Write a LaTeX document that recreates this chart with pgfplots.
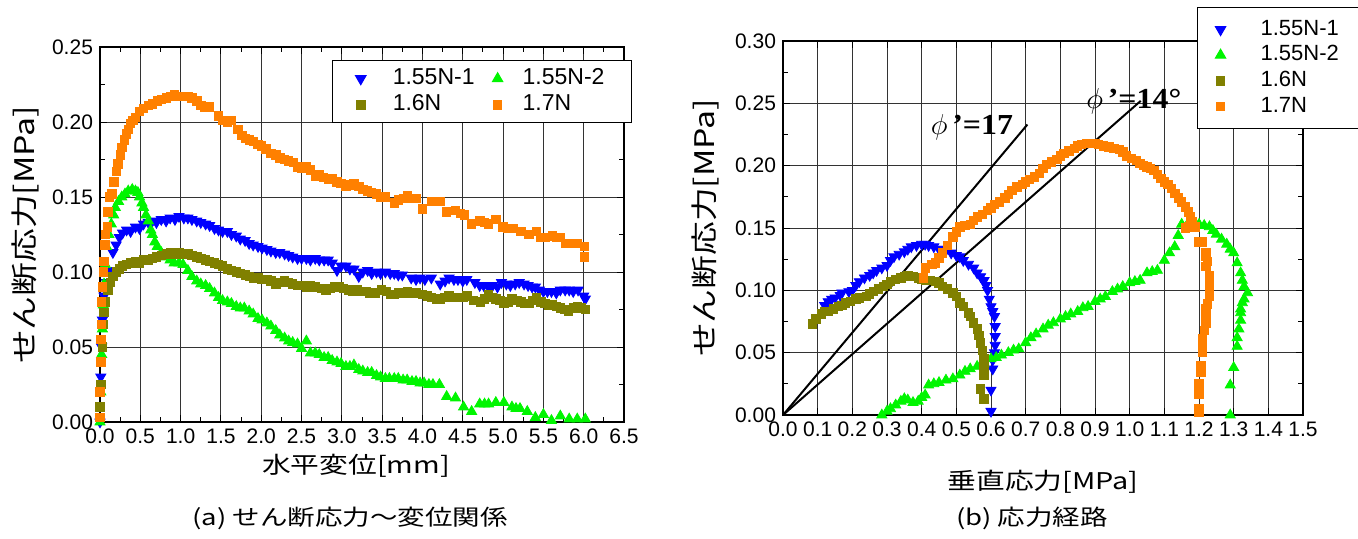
\documentclass[border=0pt]{standalone}
\usepackage{fontspec}
\setmainfont{Liberation Sans}
\newfontfamily\jp{Noto Sans CJK JP}[FakeStretch=1.25]
\newfontfamily\ser{Liberation Serif}[FakeStretch=1.1]
\usepackage{pgfplots}
\pgfplotsset{compat=1.18}
\definecolor{cblue}{RGB}{0,0,255}
\definecolor{cgreen}{RGB}{0,245,0}
\definecolor{colive}{RGB}{128,128,0}
\definecolor{corange}{RGB}{255,128,0}
\pgfplotsset{
  mybase/.style={
    scale only axis, clip=false,
    axis line style={line width=0.7pt},
    grid=major,
    major grid style={black!80, line width=0.45pt},
    tick align=inside,
    every tick/.style={black, line width=0.5pt},
    major tick length=3.5pt, minor tick length=2.5pt,
    scaled ticks=false,
    /pgf/number format/assume math mode=true,
    tick label style={font=\fontsize{10.5}{12}\selectfont},
    xticklabel style={/pgf/number format/.cd, fixed, fixed zerofill, precision=1},
    yticklabel style={/pgf/number format/.cd, fixed, fixed zerofill, precision=2},
    legend cell align=left,
  },
  pB/.style={only marks, mark=triangle*, mark size=2.9pt, color=cblue, mark options={rotate=180, fill=cblue, draw=cblue}},
  pG/.style={only marks, mark=triangle*, mark size=2.9pt, color=cgreen, mark options={fill=cgreen, draw=cgreen}},
  pO/.style={only marks, mark=square*, mark size=2.1pt, color=colive, mark options={fill=colive, draw=colive}},
  pR/.style={only marks, mark=square*, mark size=2.1pt, color=corange, mark options={fill=corange, draw=corange}},
}

\pgfplotstableread{
x y
0 0
0.01 0.03
0.02 0.05
0.03 0.068
0.05 0.084
0.08 0.093
0.11 0.101
0.16 0.113
0.2 0.118
0.24 0.123
0.28 0.126
0.33 0.128
0.38 0.127
0.44 0.130
0.49 0.129
0.54 0.132
0.6 0.133
0.65 0.134
0.7 0.133
0.76 0.135
0.82 0.134
0.87 0.136
0.93 0.135
0.98 0.137
1.04 0.136
1.09 0.136
1.14 0.135
1.2 0.134
1.25 0.133
1.31 0.132
1.36 0.131
1.42 0.129
1.47 0.128
1.52 0.127
1.58 0.127
1.63 0.125
1.69 0.124
1.74 0.122
1.8 0.121
1.85 0.119
1.9 0.118
1.96 0.117
2.01 0.116
2.07 0.115
2.12 0.114
2.18 0.113
2.23 0.113
2.29 0.112
2.34 0.111
2.39 0.110
2.45 0.109
2.5 0.109
2.56 0.109
2.61 0.108
2.67 0.109
2.72 0.108
2.78 0.108
2.83 0.108
2.88 0.106
2.94 0.101
2.99 0.104
3.05 0.104
3.1 0.102
3.15 0.102
3.21 0.097
3.26 0.100
3.32 0.101
3.37 0.099
3.43 0.100
3.48 0.099
3.54 0.100
3.6 0.099
3.65 0.099
3.7 0.098
3.75 0.098
3.86 0.096
3.92 0.095
3.97 0.096
4.03 0.095
4.11 0.096
4.22 0.092
4.28 0.094
4.33 0.096
4.39 0.095
4.44 0.095
4.5 0.094
4.55 0.095
4.65 0.093
4.71 0.091
4.76 0.091
4.82 0.090
4.87 0.091
4.93 0.090
4.98 0.093
5.04 0.092
5.09 0.091
5.15 0.092
5.2 0.093
5.26 0.092
5.31 0.091
5.36 0.090
5.4 0.090
5.45 0.088
5.5 0.087
5.55 0.087
5.6 0.087
5.66 0.086
5.71 0.088
5.77 0.088
5.82 0.088
5.87 0.087
5.93 0.088
6.0 0.084
6.02 0.082
}\LB
\pgfplotstableread{
x y
0 0
0.01 0.02
0.02 0.045
0.03 0.062
0.04 0.078
0.05 0.092
0.065 0.105
0.08 0.117
0.11 0.125
0.14 0.132
0.17 0.138
0.19 0.143
0.23 0.147
0.27 0.150
0.31 0.152
0.35 0.154
0.4 0.155
0.44 0.154
0.47 0.153
0.49 0.150
0.52 0.146
0.54 0.143
0.57 0.138
0.6 0.134
0.63 0.128
0.65 0.125
0.68 0.120
0.71 0.117
0.76 0.113
0.82 0.110
0.87 0.108
0.92 0.106
0.98 0.106
1.03 0.105
1.09 0.101
1.14 0.097
1.2 0.094
1.25 0.092
1.31 0.091
1.36 0.089
1.42 0.086
1.47 0.083
1.52 0.081
1.58 0.080
1.63 0.079
1.69 0.077
1.74 0.076
1.79 0.076
1.85 0.074
1.9 0.072
1.96 0.069
2.01 0.068
2.07 0.066
2.12 0.064
2.18 0.061
2.23 0.058
2.29 0.056
2.34 0.054
2.39 0.053
2.45 0.052
2.5 0.049
2.56 0.054
2.61 0.046
2.67 0.046
2.72 0.045
2.78 0.043
2.83 0.043
2.88 0.041
2.94 0.040
2.99 0.039
3.05 0.037
3.1 0.037
3.15 0.038
3.21 0.035
3.26 0.034
3.32 0.033
3.37 0.033
3.43 0.031
3.48 0.030
3.54 0.029
3.59 0.029
3.65 0.029
3.7 0.029
3.76 0.028
3.81 0.028
3.87 0.027
3.92 0.027
3.97 0.026
4.02 0.026
4.08 0.025
4.13 0.025
4.21 0.025
4.3 0.017
4.41 0.016
4.51 0.010
4.61 0.007
4.71 0.012
4.77 0.012
4.82 0.012
4.91 0.013
5.01 0.013
5.11 0.010
5.16 0.009
5.21 0.009
5.3 0.007
5.4 0.003
5.5 0.005
5.6 0.001
5.71 0.004
5.82 0.002
5.92 0.002
6.02 0.002
}\LG
\pgfplotstableread{
x y
0 0.01
0.01 0.025
0.02 0.04
0.03 0.05
0.04 0.065
0.05 0.073
0.07 0.08
0.1 0.088
0.13 0.093
0.16 0.097
0.2 0.100
0.24 0.102
0.28 0.104
0.33 0.105
0.38 0.106
0.44 0.107
0.49 0.106
0.54 0.108
0.6 0.108
0.65 0.109
0.7 0.110
0.76 0.111
0.82 0.112
0.87 0.113
0.93 0.112
0.98 0.113
1.04 0.112
1.09 0.112
1.14 0.111
1.2 0.110
1.25 0.109
1.31 0.108
1.36 0.107
1.42 0.106
1.47 0.105
1.52 0.104
1.58 0.102
1.63 0.101
1.69 0.100
1.74 0.099
1.8 0.098
1.85 0.097
1.9 0.096
1.96 0.096
2.01 0.095
2.07 0.095
2.12 0.094
2.18 0.092
2.23 0.093
2.29 0.094
2.34 0.093
2.39 0.092
2.45 0.091
2.5 0.091
2.56 0.090
2.61 0.091
2.67 0.090
2.75 0.089
2.8 0.088
2.86 0.089
2.91 0.090
2.97 0.090
3.02 0.089
3.08 0.088
3.13 0.087
3.19 0.088
3.24 0.087
3.3 0.087
3.35 0.086
3.41 0.086
3.49 0.088
3.55 0.087
3.6 0.085
3.65 0.085
3.7 0.086
3.76 0.086
3.81 0.087
3.87 0.086
3.92 0.086
4.0 0.085
4.06 0.084
4.11 0.083
4.17 0.082
4.22 0.082
4.28 0.083
4.33 0.084
4.39 0.083
4.44 0.083
4.5 0.083
4.55 0.084
4.63 0.081
4.72 0.080
4.77 0.082
4.82 0.085
4.87 0.083
4.91 0.082
4.96 0.081
5.01 0.079
5.06 0.080
5.11 0.082
5.17 0.081
5.22 0.080
5.27 0.079
5.32 0.079
5.37 0.081
5.41 0.083
5.47 0.080
5.52 0.079
5.56 0.078
5.61 0.078
5.66 0.077
5.71 0.076
5.76 0.075
5.81 0.074
5.87 0.076
5.92 0.077
5.97 0.076
6.02 0.075
}\LO
\pgfplotstableread{
x y
0 0.003
0.0 0.02
0.01 0.04
0.01 0.055
0.02 0.065
0.02 0.08
0.03 0.09
0.04 0.1
0.05 0.107
0.06 0.118
0.07 0.125
0.09 0.13
0.1 0.14
0.12 0.15
0.15 0.152
0.17 0.16
0.2 0.167
0.22 0.172
0.25 0.178
0.27 0.183
0.3 0.188
0.33 0.192
0.35 0.195
0.38 0.199
0.41 0.201
0.44 0.203
0.49 0.207
0.54 0.209
0.6 0.211
0.65 0.212
0.71 0.214
0.76 0.215
0.82 0.216
0.87 0.217
0.92 0.218
0.98 0.217
1.03 0.217
1.09 0.217
1.14 0.216
1.2 0.214
1.25 0.211
1.3 0.210
1.36 0.210
1.47 0.204
1.52 0.201
1.58 0.200
1.63 0.201
1.71 0.195
1.76 0.191
1.8 0.189
1.85 0.188
1.9 0.187
1.96 0.185
2.0 0.184
2.06 0.182
2.12 0.179
2.18 0.178
2.23 0.176
2.29 0.175
2.34 0.174
2.4 0.173
2.45 0.170
2.5 0.169
2.56 0.170
2.61 0.168
2.67 0.164
2.72 0.165
2.77 0.163
2.83 0.162
2.88 0.162
2.94 0.160
2.99 0.159
3.05 0.157
3.1 0.158
3.15 0.159
3.21 0.157
3.26 0.155
3.32 0.154
3.37 0.153
3.43 0.152
3.48 0.150
3.54 0.150
3.65 0.146
3.7 0.148
3.76 0.149
3.81 0.151
3.87 0.149
3.92 0.149
4.0 0.142
4.11 0.147
4.17 0.147
4.22 0.147
4.3 0.140
4.41 0.141
4.47 0.139
4.52 0.138
4.61 0.132
4.71 0.134
4.77 0.133
4.82 0.132
4.91 0.135
5.0 0.130
5.06 0.129
5.12 0.129
5.22 0.127
5.32 0.125
5.41 0.127
5.47 0.123
5.52 0.123
5.61 0.124
5.66 0.123
5.71 0.123
5.77 0.119
5.82 0.119
5.92 0.119
6.01 0.117
6.01 0.110
}\LR

\pgfplotstableread{
x y
0.12 0.088
0.13 0.091
0.14 0.093
0.15 0.094
0.165 0.096
0.17 0.098
0.19 0.099
0.20 0.100
0.21 0.104
0.22 0.107
0.235 0.110
0.25 0.112
0.26 0.114
0.27 0.116
0.285 0.118
0.30 0.120
0.31 0.124
0.32 0.127
0.335 0.129
0.35 0.131
0.36 0.133
0.37 0.135
0.385 0.136
0.40 0.137
0.41 0.137
0.42 0.136
0.435 0.135
0.45 0.133
0.46 0.133
0.47 0.132
0.485 0.130
0.50 0.128
0.51 0.127
0.52 0.124
0.535 0.121
0.55 0.118
0.56 0.114
0.57 0.111
0.58 0.108
0.585 0.104
0.59 0.100
0.595 0.093
0.60 0.087
0.605 0.083
0.61 0.079
0.612 0.071
0.612 0.063
0.612 0.056
0.61 0.050
0.605 0.044
0.605 0.037
0.60 0.020
0.60 0.003
}\RB
\pgfplotstableread{
x y
0.285 0.000
0.30 0.003
0.31 0.005
0.325 0.008
0.34 0.011
0.35 0.013
0.36 0.012
0.375 0.010
0.39 0.011
0.40 0.014
0.41 0.016
0.42 0.024
0.435 0.025
0.45 0.026
0.47 0.028
0.49 0.029
0.51 0.032
0.525 0.035
0.54 0.037
0.56 0.039
0.58 0.041
0.60 0.045
0.615 0.046
0.63 0.048
0.65 0.050
0.665 0.052
0.68 0.053
0.70 0.058
0.715 0.062
0.73 0.065
0.75 0.069
0.765 0.072
0.78 0.074
0.80 0.077
0.815 0.079
0.83 0.081
0.85 0.083
0.865 0.086
0.88 0.087
0.90 0.091
0.915 0.093
0.93 0.095
0.95 0.099
0.965 0.101
0.98 0.103
1.00 0.106
1.015 0.107
1.03 0.108
1.05 0.114
1.065 0.115
1.08 0.116
1.10 0.124
1.115 0.130
1.13 0.135
1.14 0.144
1.15 0.153
1.165 0.152
1.18 0.153
1.20 0.153
1.215 0.152
1.23 0.151
1.24 0.148
1.25 0.145
1.265 0.141
1.28 0.137
1.29 0.133
1.30 0.130
1.31 0.122
1.32 0.114
1.325 0.108
1.33 0.103
1.34 0.098
1.33 0.093
1.325 0.090
1.32 0.085
1.32 0.082
1.32 0.076
1.315 0.069
1.31 0.062
1.31 0.055
1.30 0.038
1.29 0.024
1.29 0.000
}\RG
\pgfplotstableread{
x y
0.084 0.073
0.095 0.077
0.11 0.081
0.12 0.083
0.13 0.083
0.145 0.085
0.16 0.087
0.17 0.088
0.18 0.090
0.195 0.091
0.21 0.093
0.22 0.094
0.24 0.095
0.25 0.097
0.26 0.099
0.275 0.101
0.29 0.103
0.30 0.105
0.31 0.107
0.325 0.109
0.34 0.110
0.35 0.111
0.36 0.112
0.375 0.111
0.39 0.110
0.40 0.109
0.41 0.108
0.425 0.108
0.44 0.107
0.45 0.106
0.46 0.103
0.475 0.101
0.49 0.098
0.50 0.095
0.51 0.090
0.52 0.087
0.535 0.082
0.54 0.079
0.55 0.074
0.56 0.069
0.565 0.064
0.57 0.058
0.575 0.052
0.58 0.045
0.58 0.038
0.58 0.032
0.57 0.021
0.58 0.013
}\RO
\pgfplotstableread{
x y
0.405 0.110
0.41 0.118
0.43 0.121
0.44 0.122
0.45 0.126
0.46 0.130
0.475 0.136
0.49 0.143
0.50 0.147
0.51 0.151
0.525 0.152
0.54 0.153
0.55 0.156
0.56 0.159
0.575 0.161
0.59 0.164
0.60 0.166
0.61 0.169
0.625 0.171
0.64 0.174
0.65 0.177
0.66 0.180
0.675 0.183
0.69 0.185
0.70 0.187
0.71 0.189
0.725 0.191
0.74 0.194
0.75 0.198
0.76 0.201
0.775 0.203
0.79 0.205
0.80 0.208
0.81 0.210
0.825 0.212
0.84 0.214
0.85 0.216
0.86 0.217
0.875 0.218
0.89 0.218
0.90 0.218
0.91 0.217
0.925 0.216
0.94 0.215
0.955 0.214
0.97 0.213
0.98 0.211
0.99 0.208
1.005 0.206
1.02 0.204
1.03 0.202
1.04 0.200
1.05 0.199
1.06 0.198
1.07 0.196
1.08 0.193
1.09 0.190
1.10 0.187
1.11 0.185
1.12 0.182
1.13 0.178
1.14 0.174
1.15 0.171
1.16 0.167
1.17 0.163
1.175 0.159
1.18 0.155
1.19 0.151
1.17 0.151
1.16 0.150
1.20 0.139
1.21 0.139
1.22 0.130
1.22 0.127
1.225 0.123
1.22 0.119
1.23 0.112
1.23 0.106
1.23 0.100
1.23 0.095
1.225 0.089
1.22 0.085
1.22 0.080
1.22 0.074
1.215 0.068
1.21 0.061
1.21 0.055
1.21 0.050
1.205 0.040
1.205 0.034
1.20 0.025
1.20 0.017
1.20 0.005
1.20 0.002
}\RR

\begin{document}
\begin{tikzpicture}
\useasboundingbox (0,0) rectangle (679pt,269pt);
% ---------- left ----------
\begin{axis}[mybase,
  at={(50pt,58pt)}, anchor=south west,
  width=262pt, height=187.5pt,
  xmin=0, xmax=6.5, ymin=0, ymax=0.25,
  xtick={0,0.5,...,6.5}, ytick={0,0.05,0.1,0.15,0.2,0.25},
  minor x tick num=1, minor y tick num=1,
  legend columns=2,
  legend style={at={(rel axis cs:0.443,0.965)}, anchor=north west,
    draw=black, line width=0.6pt, inner xsep=11.5pt, inner ysep=2.5pt,
    font=\fontsize{11.5}{13}\selectfont, row sep=0pt,
    nodes={inner xsep=2pt, inner ysep=1pt, text height=8.5pt, text depth=2.5pt},
    /tikz/column 1/.style={column sep=11.5pt},
    /tikz/column 2/.style={column sep=7pt},
    /tikz/column 3/.style={column sep=8pt}},
]
\addplot[pB] table {\LB}; \addlegendentry{1.55N-1}
\addplot[pG] table {\LG}; \addlegendentry{1.55N-2}
\addplot[pO] table {\LO}; \addlegendentry{1.6N}
\addplot[pR] table {\LR}; \addlegendentry{1.7N}
\end{axis}
% ---------- right ----------
\begin{axis}[mybase,
  at={(391.5pt,61.5pt)}, anchor=south west,
  width=260pt, height=187pt,
  xmin=0, xmax=1.5, ymin=0, ymax=0.3,
  xtick={0,0.1,0.2,0.3,0.4,0.5,0.6,0.7,0.8,0.9,1.0,1.1,1.2,1.3,1.4,1.5},
  ytick={0,0.05,0.1,0.15,0.2,0.25,0.3},
  minor y tick num=1,
  legend columns=1,
  legend style={at={(rel axis cs:0.796,1.091)}, anchor=north west,
    draw=black, line width=0.6pt, inner xsep=9pt, inner ysep=4.6pt,
    font=\fontsize{11}{13}\selectfont, row sep=0pt,
    nodes={inner xsep=1pt, inner ysep=1pt, text height=8.3pt, text depth=2.5pt},
    /tikz/column 1/.style={column sep=16.5pt}},
]
\addplot[pB] table {\RB}; \addlegendentry{1.55N-1}
\addplot[pG] table {\RG}; \addlegendentry{1.55N-2}
\addplot[pO] table {\RO}; \addlegendentry{1.6N}
\addplot[pR] table {\RR}; \addlegendentry{1.7N}
\addplot[black, line width=1pt, forget plot] coordinates {(0,0) (0.705,0.233)};
\addplot[black, line width=1pt, forget plot] coordinates {(0,0) (1.032,0.252)};
\node at (axis cs:0.545,0.231) {\fontsize{14.5}{16}\selectfont$\phi$\ser\bfseries\,’=17};
\node at (axis cs:1.012,0.252) {\fontsize{14.5}{16}\selectfont$\phi$\ser\bfseries\,’=14°};
\end{axis}
% ---------- labels ----------
\node[rotate=90] at (12.5pt,151.5pt) {\jp\fontsize{13.5}{15}\selectfont せん断応力[MPa]};
\node at (178pt,36pt) {\jp\fontsize{11.5}{13}\selectfont 水平変位[mm]};
\node at (175pt,10pt) {\jp\fontsize{11}{13}\selectfont (a)\ せん断応力～変位関係};
\node[rotate=90] at (352.5pt,155pt) {\jp\fontsize{13.5}{15}\selectfont せん断応力[MPa]};
\node at (521.5pt,28pt) {\jp\fontsize{11.5}{13}\selectfont 垂直応力[MPa]};
\node at (516pt,10pt) {\jp\fontsize{11}{13}\selectfont (b)\ 応力経路};
\end{tikzpicture}
\end{document}
